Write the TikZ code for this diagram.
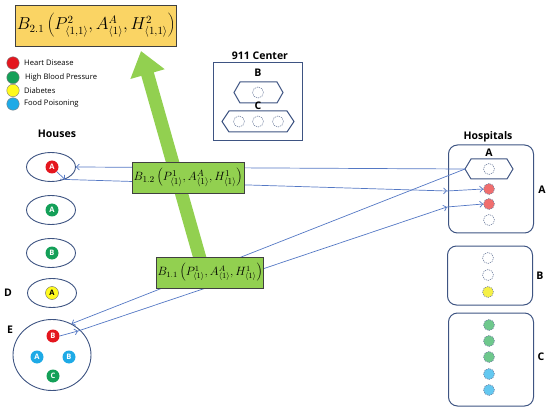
\documentclass[tikz,border=0pt]{standalone}
\usepackage{fontspec}
\setsansfont{Open Sans}
\usetikzlibrary{arrows.meta,shapes.geometric}
\definecolor{edgeb}{RGB}{62,84,130}
\definecolor{linkb}{RGB}{84,120,196}
\definecolor{cred}{RGB}{228,22,30}
\definecolor{cgreen}{RGB}{20,160,88}
\definecolor{cyellow}{RGB}{255,250,30}
\definecolor{cblue}{RGB}{30,170,230}
\definecolor{lred}{RGB}{240,110,110}
\definecolor{lgreen}{RGB}{110,200,140}
\definecolor{lblue}{RGB}{100,200,240}
\definecolor{lyellow}{RGB}{245,240,70}
\definecolor{dashc}{RGB}{120,135,165}
\definecolor{bgreen}{RGB}{146,208,80}
\definecolor{bgold}{RGB}{250,212,100}
\begin{document}
\begin{tikzpicture}[x=1pt,y=-1pt,
  houseell/.style={ellipse,draw=edgeb,line width=0.9pt,minimum width=49pt,minimum height=29pt,inner sep=0pt},
  pt/.style={circle,minimum size=13pt,inner sep=0pt,text=white,font=\sffamily\bfseries\fontsize{7.5}{8}\selectfont},
  legc/.style={circle,minimum size=12.5pt,inner sep=0pt,draw=black!50,line width=0.4pt},
  hdot/.style={circle,minimum size=11pt,inner sep=0pt,draw=dashc,dashed,dash pattern=on 1.2pt off 0.9pt,line width=0.6pt},
  hosp/.style={draw=edgeb,line width=1pt,rounded corners=9pt},
  hexs/.style={draw=edgeb,line width=1pt,fill=white},
  lbl/.style={font=\sffamily\bfseries\fontsize{10.5}{12}\selectfont,inner sep=0pt},
  legt/.style={font=\sffamily\fontsize{7.6}{8}\selectfont,anchor=west,inner sep=0pt},
  lnk/.style={draw=linkb,line width=0.7pt,-{Straight Barb[length=3pt,width=6pt]}},
  fbox/.style={draw=black!75,line width=0.8pt,inner sep=1pt}
]
\useasboundingbox (0,0) rectangle (550,412);

% big green arrow
\coordinate (gaS) at (201,262);
\coordinate (gaT) at (141,51);
\draw[bgreen,line width=13pt,-{Triangle[length=24pt,width=34pt]}] (gaS) -- (gaT);

% top box
\node[fbox,fill=bgold,minimum width=154pt,minimum height=41pt] (B21) at (96,25.5)
 {\fontsize{16}{18}\selectfont$B_{2.1}\left(P^{2}_{\langle 1,1\rangle},A^{A}_{\langle 1\rangle},H^{2}_{\langle 1,1\rangle}\right)$};

% legend
\node[legc,fill=cred] (lg1) at (13,63) {};
\node[legc,fill=cgreen] (lg2) at (13,77.5) {};
\node[legc,fill=cyellow] (lg3) at (13,90.5) {};
\node[legc,fill=cblue] (lg4) at (13,104) {};
\node[legt] (lt1) at (24,63) {Heart Disease};
\node[legt] (lt2) at (25,77.5) {High Blood Pressure};
\node[legt] (lt3) at (24,90.5) {Diabetes};
\node[legt] (lt4) at (24,104) {Food Poisoning};

% 911 center
\node[lbl] (c911) at (260,56) {911 Center};
\node[draw=edgeb,line width=1pt,minimum width=89pt,minimum height=78pt,inner sep=0pt] (cbox) at (257.5,102) {};
\node[lbl] (cB) at (258,73) {B};
\draw[hexs] (234,92.5) -- (240,82) -- (277,82) -- (283,92.5) -- (277,103) -- (240,103) -- cycle;
\node[hdot,fill=white] (cb1) at (258,92.5) {};
\node[lbl] (cC) at (258,106) {C};
\draw[hexs] (222,121.5) -- (229,111) -- (287,111) -- (294,121.5) -- (287,132) -- (229,132) -- cycle;
\node[hdot,fill=white] (cc1) at (239,121.5) {};
\node[hdot,fill=white] (cc2) at (258,121.5) {};
\node[hdot,fill=white] (cc3) at (278,121.5) {};

% houses
\node[lbl] (hl) at (57,134) {Houses};
\node[houseell] (h1) at (51,167) {};
\node[pt,fill=cred] (p1) at (52,167) {A};
\node[houseell] (h2) at (51,210) {};
\node[pt,fill=cgreen] (p2) at (52,210) {A};
\node[houseell] (h3) at (51,253) {};
\node[pt,fill=cgreen] (p3) at (52,253) {B};
\node[houseell] (h4) at (52,293) {};
\node[pt,fill=cyellow,draw=black!60,line width=0.4pt,text=black] (p4) at (52,293) {A};
\node[lbl] (lD) at (8,293) {D};
\node[ellipse,draw=edgeb,line width=0.9pt,minimum width=78pt,minimum height=71pt,inner sep=0pt] (hE) at (52,355) {};
\node[lbl] (lE) at (10,330) {E};
\node[pt,fill=cred] (pe1) at (53,336) {B};
\node[pt,fill=cblue] (pe2) at (37,357) {A};
\node[pt,fill=cblue] (pe3) at (69,357) {B};
\node[pt,fill=cgreen] (pe4) at (53,376) {C};

% hospitals
\node[lbl] (hsl) at (488,137) {Hospitals};
\node[hosp,minimum width=85pt,minimum height=88pt,inner sep=0pt] (HA) at (491,189) {};
\node[hosp,minimum width=85pt,minimum height=59pt,inner sep=0pt] (HB) at (490,275.5) {};
\node[hosp,minimum width=85pt,minimum height=93pt,inner sep=0pt] (HC) at (491,359.5) {};
\node[lbl] (lA) at (542,190) {A};
\node[lbl] (lB) at (540,276) {B};
\node[lbl] (lC) at (541,357) {C};
\node[lbl] (hAl) at (489,153) {A};
\draw[hexs] (465,169) -- (471,159) -- (507,159) -- (513,169) -- (507,179) -- (471,179) -- cycle;
\coordinate (hextip) at (465,169);
\node[hdot,fill=white] (a0) at (489,169) {};
\node[hdot,fill=lred] (a1) at (489,189) {};
\node[hdot,fill=lred] (a2) at (489,204) {};
\node[hdot,fill=white] (a3) at (489,220) {};
\node[hdot,fill=white] (b1) at (488,258) {};
\node[hdot,fill=white] (b2) at (488,275) {};
\node[hdot,fill=lyellow] (b3) at (488,292) {};
\node[hdot,fill=lgreen] (k1) at (489,325) {};
\node[hdot,fill=lgreen] (k2) at (489,341) {};
\node[hdot,fill=lgreen] (k3) at (489,357) {};
\node[hdot,fill=lblue] (k4) at (489,374) {};
\node[hdot,fill=lblue] (k5) at (489,390) {};

% connectors
\coordinate (e1) at (447,191);
\coordinate (e2) at (447,207);
\coordinate (hEin) at (78,331);
\draw[lnk] (hextip) -- (h1.east);
\draw[lnk] (p1) -- (h1.-42);
\draw[lnk] (h1.-42) -- (e1);
\draw[lnk] (e1) -- (a1.west);
\draw[lnk] (hextip) -- (hE.58);
\draw[lnk] (pe1.east) -- (hEin);
\draw[lnk] (hEin) -- (e2);
\draw[lnk] (e2) -- (a2.west);

% green boxes
\node[fbox,fill=bgreen,minimum width=112pt,minimum height=31pt] (B12) at (188,177.5)
 {\fontsize{12.5}{14}\selectfont$B_{1.2}\left(P^{1}_{\langle 1\rangle},A^{A}_{\langle 1\rangle},H^{1}_{\langle 1\rangle}\right)$};
\node[fbox,fill=bgreen,minimum width=106pt,minimum height=31pt] (B11) at (210,272.5)
 {\fontsize{12}{14}\selectfont$B_{1.1}\left(P^{1}_{\langle 1\rangle},A^{A}_{\langle 1\rangle},H^{1}_{\langle 1\rangle}\right)$};
\end{tikzpicture}
\end{document}
